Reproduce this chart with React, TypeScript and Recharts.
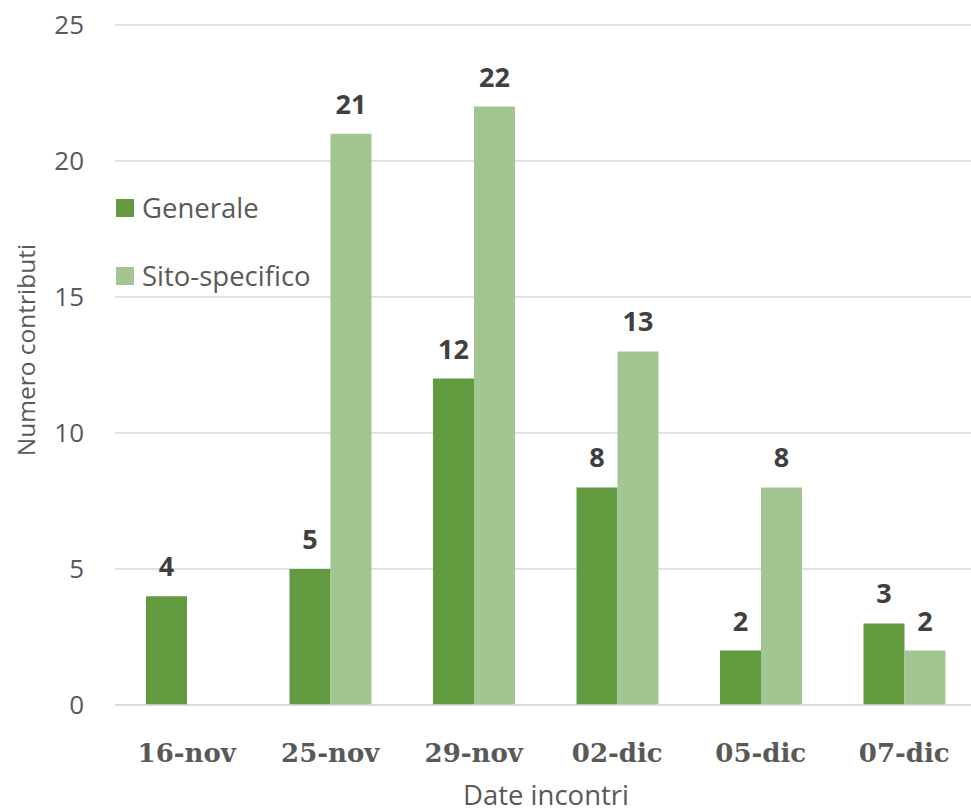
import { BarChart, Bar, XAxis, YAxis, CartesianGrid, Legend, LabelList, Label } from "recharts";

const DATES = ["16-nov", "25-nov", "29-nov", "02-dic", "05-dic", "07-dic"];
const GENERALE = [4, 5, 12, 8, 2, 3];
const SITO = [null, 21, 22, 13, 8, 2];
const Y_TICKS = [0, 5, 10, 15, 20, 25];

const DARK = "#629B3F";
const LIGHT = "#A2C592";
const TEXT = "#595959";
const LABEL = "#404040";
const GRID = "#D9D9D9";
const SANS = "'Open Sans', sans-serif";

const data = DATES.map((d, i) => ({ date: d, generale: GENERALE[i], sito: SITO[i] }));

const XTick = (props: any) => {
  const { x, payload } = props;
  return (
    <text x={x} y={762} textAnchor="middle" fill={TEXT} fontFamily="'DejaVu Serif', serif" fontWeight="bold" fontSize={26}>
      {payload.value}
    </text>
  );
};

const YTick = (props: any) => {
  const { y, payload } = props;
  return (
    <text x={84} y={y} dy="0.35em" textAnchor="end" fill={TEXT} fontFamily={SANS} fontSize={26}>
      {payload.value}
    </text>
  );
};

const ValueLabel = (props: any) => {
  const { x, y, width, value } = props;
  if (value == null || value === 0) return null;
  return (
    <text x={x + width / 2} y={y - 20} textAnchor="middle" fill={LABEL} fontFamily={SANS} fontWeight="bold" fontSize={27}>
      {value}
    </text>
  );
};

const LegendBox = () => (
  <div style={{ fontFamily: SANS, fontSize: 27.5, color: TEXT }}>
    {[
      { name: "Generale", color: DARK },
      { name: "Sito-specifico", color: LIGHT },
    ].map((it, i) => (
      <div key={it.name} style={{ display: "flex", alignItems: "center", height: 34, marginBottom: i === 0 ? 34 : 0 }}>
        <span style={{ display: "inline-block", width: 18, height: 18, background: it.color, marginRight: 8 }} />
        <span style={{ lineHeight: "34px" }}>{it.name}</span>
      </div>
    ))}
  </div>
);

export default function App() {
  return (
    <div style={{ position: "absolute", left: 0, top: 0, width: 971, height: 812, overflow: "hidden", background: "#fff" }}>
      <BarChart width={976} height={812} data={data} margin={{ top: 25, right: 0, bottom: 0, left: 0 }} barGap={0}>
        <CartesianGrid vertical={false} stroke={GRID} strokeWidth={1.5} />
        <XAxis
          dataKey="date"
          height={107}
          tickLine={false}
          axisLine={{ stroke: GRID, strokeWidth: 1.5 }}
          tick={<XTick />}
        >
          <Label
            content={() => (
              <text x={546} y={805} textAnchor="middle" fill={TEXT} fontFamily={SANS} fontSize={27.5}>
                Date incontri
              </text>
            )}
          />
        </XAxis>
        <YAxis
          width={115}
          domain={[0, 25]}
          ticks={Y_TICKS}
          tickLine={false}
          axisLine={false}
          tick={<YTick />}
        >
          <Label
            content={() => (
              <text transform="translate(25,350) rotate(-90)" textAnchor="middle" dominantBaseline="central" fill={TEXT} fontFamily={SANS} fontSize={24.5}>
                Numero contributi
              </text>
            )}
          />
        </YAxis>
        <Legend
          layout="vertical"
          verticalAlign="middle"
          align="center"
          content={<LegendBox />}
          wrapperStyle={{ left: 116, top: 191, width: 240, height: 110 }}
        />
        <Bar dataKey="generale" name="Generale" fill={DARK} barSize={41} isAnimationActive={false}>
          <LabelList dataKey="generale" content={<ValueLabel />} />
        </Bar>
        <Bar dataKey="sito" name="Sito-specifico" fill={LIGHT} barSize={41} isAnimationActive={false}>
          <LabelList dataKey="sito" content={<ValueLabel />} />
        </Bar>
      </BarChart>
    </div>
  );
}
